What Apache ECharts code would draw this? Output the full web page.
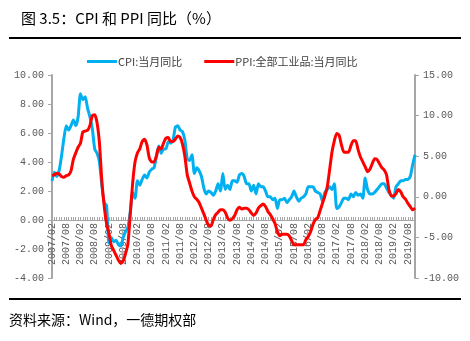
<!DOCTYPE html>
<html>
<head>
<meta charset="utf-8">
<script src="https://cdn.jsdelivr.net/npm/echarts@6/dist/echarts.min.js"></script>
<style>html,body{margin:0;padding:0;background:#fff;}#c{width:470px;height:341px;}</style>
</head>
<body>
<div id="c"></div>
<script>
// Monthly CPI (left axis) and PPI (right axis), 2007/02 - 2019/11
var startYear = 2007, startMonth = 2;
var cpi = [
  2.7,3.3,3.0,3.4,4.4,5.6,6.5,6.2,6.5,6.9,6.5,
  7.1,8.7,8.3,8.5,7.7,7.1,6.3,4.9,4.6,4.0,2.4,1.2,
  1.0,-1.6,-1.2,-1.5,-1.4,-1.7,-1.8,-1.2,-0.8,-0.5,0.6,1.9,
  1.5,2.7,2.4,2.8,3.1,2.9,3.3,3.5,3.6,4.4,5.1,4.6,
  4.9,4.9,5.4,5.3,5.5,6.4,6.5,6.2,6.1,5.5,4.2,4.1,
  4.5,3.2,3.6,3.4,3.0,2.2,1.8,2.0,1.9,1.7,2.0,2.5,
  2.0,3.2,2.1,2.4,2.1,2.7,2.7,2.6,3.1,3.2,3.0,2.5,
  2.5,2.0,2.4,1.8,2.5,2.3,2.3,2.0,1.6,1.6,1.4,1.5,
  0.8,1.4,1.4,1.5,1.2,1.4,1.6,2.0,1.6,1.3,1.5,1.6,
  1.8,2.3,2.3,2.3,2.0,1.9,1.8,1.3,1.9,2.1,2.3,2.1,
  2.5,0.8,0.9,1.2,1.5,1.5,1.4,1.8,1.6,1.9,1.7,1.8,
  1.5,2.9,2.1,1.8,1.8,1.9,2.1,2.3,2.5,2.5,2.2,1.9,
  1.7,1.5,2.3,2.5,2.7,2.7,2.8,2.8,3.0,3.8,4.5
];
var ppi = [
  2.6,2.7,2.9,2.8,2.5,2.4,2.6,2.7,3.2,4.6,5.4,
  6.1,6.6,8.0,8.1,8.2,8.8,10.0,10.1,9.1,6.6,2.0,-1.1,
  -3.3,-4.5,-6.0,-6.6,-7.2,-7.8,-8.2,-7.9,-7.0,-5.8,-2.1,1.7,
  4.3,5.4,5.9,6.8,7.1,6.4,4.8,4.3,4.3,5.0,6.1,5.9,
  6.6,7.2,7.3,6.8,6.8,7.1,7.5,7.3,6.5,5.0,2.7,1.7,
  0.7,0.0,-0.3,-0.7,-1.4,-2.1,-2.9,-3.5,-3.6,-2.8,-2.2,-1.9,
  -1.6,-1.6,-1.9,-2.6,-2.9,-2.7,-2.3,-1.6,-1.3,-1.5,-1.4,-1.4,
  -1.6,-2.0,-2.3,-2.0,-1.4,-1.1,-0.9,-1.2,-1.8,-2.2,-2.7,-3.3,
  -4.3,-4.8,-4.6,-4.6,-4.6,-4.8,-5.4,-5.9,-5.9,-5.9,-5.9,-5.9,
  -5.3,-4.9,-4.3,-3.4,-2.8,-2.6,-1.7,-0.8,0.1,1.2,3.3,5.5,
  6.9,7.8,7.6,6.4,5.5,5.5,5.5,6.3,6.9,6.9,5.8,4.9,
  4.3,3.7,3.1,3.4,4.1,4.7,4.6,4.1,3.6,3.3,2.7,0.9,
  0.1,0.1,0.4,0.9,0.6,0.0,-0.3,-0.8,-1.2,-1.6,-1.4
];
var categories = [];
(function(){
  var y = startYear, m = startMonth;
  for (var i = 0; i < cpi.length; i++) {
    categories.push(y + '/' + (m < 10 ? '0' + m : '' + m));
    m++; if (m > 12) { m = 1; y++; }
  }
})();
var seriesNames = ['CPI:当月同比', 'PPI:全部工业品:当月同比'];
var leftTicks = {min: -4, max: 10, interval: 2};
var rightTicks = {min: -10, max: 15, interval: 5};

var mono = '"Liberation Mono", monospace';
var cjk = '"Noto Sans CJK SC", sans-serif';
var axisGrey = '#A6A6A6';
var labelColor = '#595959';

var gridTop = 75, gridBottom = 63, chartH = 341;
var plotH = chartH - gridTop - gridBottom;
// distance of left-axis zero line above the grid bottom
var zeroOffset = plotH * (0 - leftTicks.min) / (leftTicks.max - leftTicks.min);

var chart = echarts.init(document.getElementById('c'), null, {renderer: 'canvas'});
chart.setOption({
  animation: false,
  backgroundColor: '#fff',
  title: {
    text: '图 3.5：CPI 和 PPI 同比（%）',
    left: 16, top: 6,
    textStyle: {fontFamily: cjk, fontSize: 15, fontWeight: 'normal', color: '#000'}
  },
  legend: {
    left: 82, top: 51,
    itemWidth: 30, itemHeight: 3, itemGap: 22,
    icon: 'rect',
    textStyle: {fontFamily: cjk, fontSize: 11, color: '#404040', padding: [0, 0, 0, -4]},
    data: seriesNames
  },
  grid: {left: 52, right: 55, top: gridTop, bottom: gridBottom},
  xAxis: {
    type: 'category',
    data: categories,
    boundaryGap: false,
    offset: -zeroOffset,
    axisLine: {onZero: false, lineStyle: {color: axisGrey, width: 1}},
    axisTick: {show: true, interval: 0, inside: true, length: 3, lineStyle: {color: axisGrey}},
    axisLabel: {interval: 5, rotate: 90, fontFamily: mono, fontSize: 10, color: labelColor, margin: 3},
    splitLine: {show: false}
  },
  yAxis: [
    {
      type: 'value', position: 'left',
      min: leftTicks.min, max: leftTicks.max, interval: leftTicks.interval,
      axisLine: {show: true, lineStyle: {color: axisGrey, width: 2}},
      axisTick: {show: true, length: 4, lineStyle: {color: axisGrey}},
      axisLabel: {fontFamily: mono, fontSize: 10, color: labelColor, margin: 8,
        formatter: function(v){ return v.toFixed(2); }},
      splitLine: {show: false}
    },
    {
      type: 'value', position: 'right',
      min: rightTicks.min, max: rightTicks.max, interval: rightTicks.interval,
      axisLine: {show: true, lineStyle: {color: axisGrey, width: 2}},
      axisTick: {show: true, length: 4, lineStyle: {color: axisGrey}},
      axisLabel: {fontFamily: mono, fontSize: 10, color: labelColor, margin: 8,
        formatter: function(v){ return v.toFixed(2); }},
      splitLine: {show: false}
    }
  ],
  series: [
    {
      name: seriesNames[0], type: 'line', yAxisIndex: 0, data: cpi,
      showSymbol: false, smooth: 0.2,
      lineStyle: {color: '#00B0F0', width: 3}, itemStyle: {color: '#00B0F0'}
    },
    {
      name: seriesNames[1], type: 'line', yAxisIndex: 1, data: ppi,
      showSymbol: false, smooth: 0.2,
      lineStyle: {color: '#FF0000', width: 3}, itemStyle: {color: '#FF0000'}
    }
  ],
  graphic: [
    {type: 'rect', shape: {x: 9, y: 37, width: 452, height: 2}, style: {fill: '#000'}},
    {type: 'rect', shape: {x: 9, y: 298, width: 452, height: 2}, style: {fill: '#000'}},
    {type: 'text', left: 9, top: 313,
      style: {text: '资料来源：Wind，一德期权部', font: '14px "Noto Sans CJK SC"', fill: '#000'}}
  ]
});
</script>
</body>
</html>
